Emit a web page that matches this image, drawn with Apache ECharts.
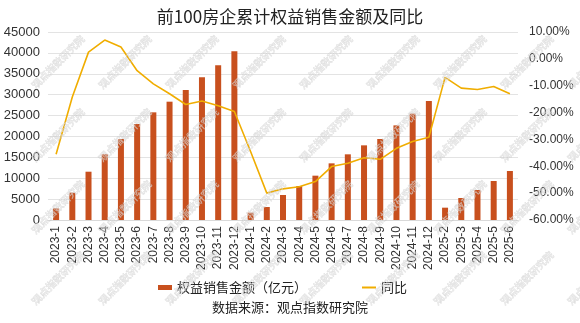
<!DOCTYPE html>
<html>
<head>
<meta charset="utf-8">
<script src="https://cdn.jsdelivr.net/npm/echarts@6/dist/echarts.min.js"></script>
<style>
  html, body { margin: 0; padding: 0; background: #fff; }
  #chart { width: 580px; height: 323px; }
</style>
</head>
<body>
<div id="chart"></div>
<script>
// 月份（2025年1月数据缺失）
var months = [
  '2023-1', '2023-2', '2023-3', '2023-4', '2023-5', '2023-6',
  '2023-7', '2023-8', '2023-9', '2023-10', '2023-11', '2023-12',
  '2024-1', '2024-2', '2024-3', '2024-4', '2024-5', '2024-6',
  '2024-7', '2024-8', '2024-9', '2024-10', '2024-11', '2024-12',
  '2025-2', '2025-3', '2025-4', '2025-5', '2025-6'
];

// 前100房企累计权益销售金额（亿元）
var equitySales = [
  2800, 6540, 11560, 15720, 19390, 22980,
  25770, 28320, 31110, 34150, 37020, 40370,
  1750, 3110, 5980, 8140, 10610, 13560,
  15720, 17870, 19390, 22650, 25450, 28480,
  2950, 5270, 7180, 9330, 11730
];

// 同比（%）
var yoyChange = [
  -35.5, -14.2, 2.5, 7.0, 4.4, -4.4,
  -9.3, -13.0, -17.0, -15.7, -17.5, -19.6,
  -34.5, -50.0, -48.4, -47.6, -45.7, -40.1,
  -38.9, -36.8, -37.4, -33.3, -30.8, -29.2,
  -6.9, -10.9, -11.4, -10.3, -13.0
];

var chart = echarts.init(document.getElementById('chart'));

var baseFont = '"Liberation Sans", Arial, "Noto Sans CJK SC", sans-serif';
var cjkFont = '"Noto Sans CJK SC", "Liberation Sans", sans-serif';

// 背景水印
var watermark = [];
var wmRows = [62, 135, 207, 278];
for (var r = 0; r < wmRows.length; r++) {
  for (var c = 0; c < 9; c++) {
    watermark.push({
      type: 'text',
      x: 58 + c * 67,
      y: wmRows[r],
      rotation: Math.PI / 4,
      z: 100,
      silent: true,
      style: {
        text: '观点指数研究院',
        font: '10px ' + cjkFont,
        fill: 'rgba(255,255,255,0.45)',
        stroke: 'rgba(170,170,170,0.45)',
        lineWidth: 0.6,
        align: 'center',
        verticalAlign: 'middle'
      }
    });
  }
}

var legendText = { fontFamily: cjkFont, fontSize: 13, color: '#222' };

chart.setOption({
  backgroundColor: '#ffffff',
  animation: false,
  title: {
    text: '前100房企累计权益销售金额及同比',
    left: 'center',
    top: 3,
    textStyle: {
      fontFamily: cjkFont,
      fontSize: 17,
      fontWeight: 'normal',
      color: '#222'
    }
  },
  legend: [
    {
      left: 153,
      top: 276,
      itemWidth: 14,
      itemHeight: 5,
      icon: 'rect',
      textStyle: legendText,
      data: ['权益销售金额（亿元）']
    },
    {
      left: 357,
      top: 276,
      itemWidth: 14,
      itemHeight: 2,
      icon: 'rect',
      textStyle: legendText,
      data: ['同比']
    }
  ],
  grid: { left: 48, right: 62, top: 32, bottom: 103 },
  xAxis: {
    type: 'category',
    data: months,
    axisLine: { lineStyle: { color: '#d9d9d9' } },
    axisTick: { show: false },
    axisLabel: {
      rotate: 90,
      interval: 0,
      margin: 6,
      fontFamily: baseFont,
      fontSize: 12,
      color: '#333'
    }
  },
  yAxis: [
    {
      type: 'value',
      min: 0,
      max: 45000,
      interval: 5000,
      axisLine: { show: false },
      axisTick: { show: false },
      splitLine: { lineStyle: { color: '#e3e3e3' } },
      axisLabel: {
        margin: 8,
        fontFamily: baseFont,
        fontSize: 13,
        color: '#333',
        formatter: function (v) { return String(v); }
      }
    },
    {
      type: 'value',
      min: -60,
      max: 10,
      interval: 10,
      axisLine: { show: false },
      axisTick: { show: false },
      splitLine: { show: false },
      axisLabel: {
        margin: 11,
        fontFamily: baseFont,
        fontSize: 12,
        color: '#333',
        formatter: function (v) { return v.toFixed(2) + '%'; }
      }
    }
  ],
  series: [
    {
      name: '权益销售金额（亿元）',
      type: 'bar',
      data: equitySales,
      barWidth: 6,
      itemStyle: { color: '#c8501e' }
    },
    {
      name: '同比',
      type: 'line',
      yAxisIndex: 1,
      data: yoyChange,
      symbol: 'none',
      lineStyle: { color: '#f0ad00', width: 1.6 },
      itemStyle: { color: '#f0ad00' }
    }
  ],
  graphic: watermark.concat([
    {
      type: 'text',
      left: 'center',
      top: 301,
      style: {
        text: '数据来源：观点指数研究院',
        font: '13px ' + cjkFont,
        fill: '#222'
      }
    }
  ])
});
</script>
</body>
</html>
